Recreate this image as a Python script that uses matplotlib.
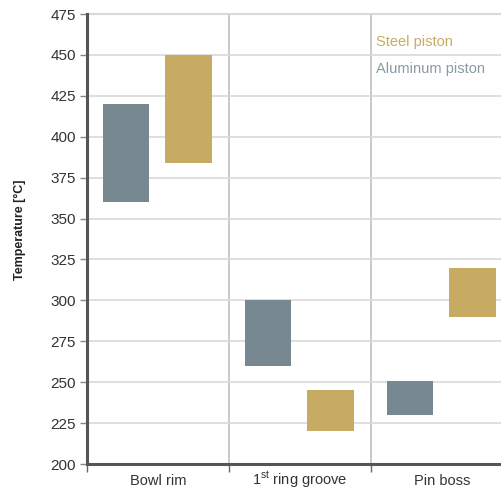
import matplotlib
matplotlib.use("Agg")
import numpy as np
import matplotlib.pyplot as plt
import matplotlib.transforms as mtransforms

categories = ["Bowl rim", "1$^{\\mathrm{st}}$ ring groove", "Pin boss"]
aluminum_low = [360, 260, 230]
aluminum_high = [420, 300, 251]
steel_low = [384, 220, 290]
steel_high = [450, 245, 320]
y_ticks = [200, 225, 250, 275, 300, 325, 350, 375, 400, 425, 450, 475]

steel_color = "#c8ab62"
alu_color = "#788890"

plt.rcParams["font.family"] = ["Liberation Sans", "DejaVu Sans"]
plt.rcParams["mathtext.fontset"] = "custom"
plt.rcParams["mathtext.rm"] = "Liberation Sans"

fig = plt.figure(figsize = (5.02, 4.90), dpi = 100)
ax = fig.add_axes([87 / 502, 1 - 464 / 490, (513 - 87) / 502, (464 - 14) / 490])

x = np.arange(len(categories))
ax.bar(x + 0.11, np.subtract(aluminum_high, aluminum_low), bottom = aluminum_low, width = 0.33, align = "edge", color = alu_color, zorder = 3)
ax.bar(x + 0.55, np.subtract(steel_high, steel_low), bottom = steel_low, width = 0.33, align = "edge", color = steel_color, zorder = 3)

ax.set_xlim(0, 3)
ax.set_ylim(200, 475)
ax.set_yticks(y_ticks)
ax.set_xticks([0, 1, 2, 3])
ax.set_xticklabels([])

# category names sit on a common baseline below the axis
label_trans = mtransforms.blended_transform_factory(ax.transData, fig.transFigure)
for i, name in enumerate(categories):
    ax.text(i + 0.5, 1 - 485 / 490, name, transform = label_trans, fontsize = 10.5, color = "#333333", ha = "center", va = "baseline", clip_on = False)

ax.tick_params(axis = "y", direction = "out", length = 5, width = 1, color = "#888888", labelsize = 11, labelcolor = "#333333", pad = 3)
ax.tick_params(axis = "x", which = "major", direction = "out", length = 6, width = 1, color = "#666666")

for side in ("top", "right"):
    ax.spines[side].set_visible(False)
for side in ("left", "bottom"):
    ax.spines[side].set_color("#555555")
    ax.spines[side].set_linewidth(2.2)

ax.grid(axis = "y", color = "#d9d9d9", linewidth = 1.2, zorder = 0)
for b in (1, 2):
    ax.axvline(b, color = "#c4c4c4", linewidth = 1.3, zorder = 0)
ax.axhline(475, color = "#d9d9d9", linewidth = 1.5, zorder = 0, clip_on = False)

fig.text(20 / 502, 1 - 230 / 490, "Temperature [°C]", rotation = 90, fontsize = 9, fontweight = "bold", ha = "center", va = "center", color = "#222222")

fig.text(376 / 502, 1 - 42 / 490, "Steel piston", fontsize = 10.5, color = steel_color, ha = "left", va = "center")
fig.text(376 / 502, 1 - 69 / 490, "Aluminum piston", fontsize = 10.5, color = "#8a9aa4", ha = "left", va = "center")

fig.savefig("out.png", dpi = 100)
